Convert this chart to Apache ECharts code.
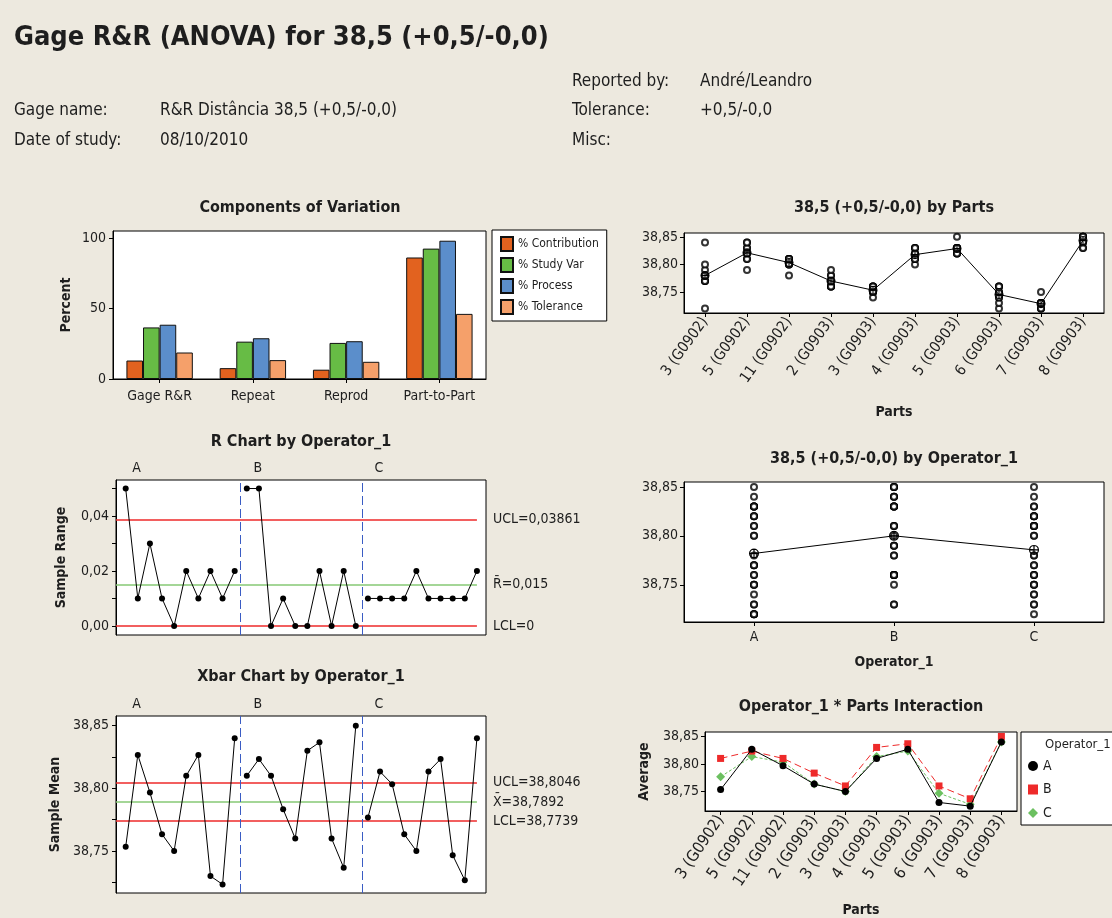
<!DOCTYPE html>
<html><head><meta charset="utf-8">
<script src="https://cdn.jsdelivr.net/npm/echarts@6/dist/echarts.min.js"></script>
<style>html,body{margin:0;padding:0;background:#EDE9DF}#c{width:1112px;height:918px}</style>
</head><body><div id="c"></div>
<script>
// ---------------- data ----------------
const compCategories = ['Gage R&R', 'Repeat', 'Reprod', 'Part-to-Part'];
const pctContribution = [13.1, 7.7, 6.6, 86.2];
const pctStudyVar = [36.6, 26.5, 25.6, 92.5];
const pctProcess = [38.5, 28.9, 26.8, 98.1];
const pctTolerance = [18.8, 13.4, 12.2, 46.2];

const parts = ['3 (G0902)', '5 (G0902)', '11 (G0902)', '2 (G0903)', '3 (G0903)', '4 (G0903)', '5 (G0903)', '6 (G0903)', '7 (G0903)', '8 (G0903)'];
const operators = ['A', 'B', 'C'];
// measurements [part][trial] for each operator
const measA = [[38.72,38.77,38.77],[38.82,38.83,38.83],[38.78,38.80,38.81],[38.76,38.76,38.77],[38.75,38.75,38.75],[38.80,38.81,38.82],[38.82,38.83,38.83],[38.72,38.73,38.74],[38.72,38.72,38.73],[38.83,38.84,38.85]];
const measB = [[38.79,38.80,38.84],[38.79,38.84,38.84],[38.81,38.81,38.81],[38.78,38.78,38.79],[38.76,38.76,38.76],[38.83,38.83,38.83],[38.83,38.83,38.85],[38.76,38.76,38.76],[38.73,38.73,38.75],[38.85,38.85,38.85]];
const measC = [[38.77,38.78,38.78],[38.81,38.81,38.82],[38.80,38.80,38.81],[38.76,38.76,38.77],[38.74,38.75,38.76],[38.81,38.81,38.82],[38.82,38.82,38.83],[38.74,38.75,38.75],[38.72,38.73,38.73],[38.83,38.84,38.85]];

const rUCL = 0.03861, rBar = 0.015, rLCL = 0;
const xUCL = 38.8046, xBarBar = 38.7892, xLCL = 38.7739;

const rTickValues = [0, 0.01, 0.02, 0.03, 0.04, 0.05];
const rLabelValues = [0, 0.02, 0.04];
const xTickValues = [38.725, 38.75, 38.775, 38.80, 38.825, 38.85];
const mmLabelValues = [38.75, 38.80, 38.85];

// ---------------- derived statistics ----------------
const allMeas = [measA, measB, measC];
const mean = a => a.reduce((s, v) => s + v, 0) / a.length;
const rangeOf = a => Math.round((Math.max(...a) - Math.min(...a)) * 1000) / 1000;
const nParts = parts.length;
const rSeries = [], xSeries = [];
allMeas.forEach((m, k) => {
  rSeries.push(m.map((t, p) => [k * nParts + p + 1, rangeOf(t)]));
  xSeries.push(m.map((t, p) => [k * nParts + p + 1, mean(t)]));
});
const nSub = operators.length * nParts;
const partObs = [], operObs = [];
allMeas.forEach((m, k) => m.forEach((t, p) => t.forEach(v => { partObs.push([p, v]); operObs.push([k, v]); })));
const partMeans = parts.map((_, p) => mean(allMeas.flatMap(m => m[p])));
const operMeans = allMeas.map(m => mean(m.flat()));
const interMeans = allMeas.map(m => m.map(t => mean(t)));

// ---------------- styling ----------------
const FONT = '"DejaVu Sans Condensed","Liberation Sans Narrow","DejaVu Sans",sans-serif';
const TXT = '#1e1e1e';
const fmt = (v, d) => v.toFixed(d).replace('.', ',');
const ORANGE = '#E2621F', GREEN = '#67BC45', BLUE = '#5B8ECB', LORANGE = '#F5A06A';
const RED = '#EE2A2A', LGREEN = '#86C874', DBLUE = '#3A5CC4';
const circlePlus = 'path://M0,-10A10,10,0,1,1,0,10A10,10,0,1,1,0,-10Z M0,-7.6A7.6,7.6,0,1,0,0,7.6A7.6,7.6,0,1,0,0,-7.6Z M-1.2,-10L1.2,-10L1.2,10L-1.2,10Z M-10,-1.2L10,-1.2L10,1.2L-10,1.2Z';

const axLine = {show: true, lineStyle: {color: '#000', width: 1}};
const axTick = {show: true, length: 4, lineStyle: {color: '#000', width: 1}};
const axLabel = {color: TXT, fontSize: 14, fontFamily: FONT};
const yName = (gap) => ({nameLocation: 'middle', nameRotate: 90, nameGap: gap, nameTextStyle: {fontWeight: 'bold', fontSize: 14, color: TXT, fontFamily: FONT}});

const grids = [
  {left: 113, top: 231, width: 373, height: 148},
  {left: 116, top: 480, width: 370, height: 155},
  {left: 116, top: 716, width: 370, height: 177},
  {left: 684, top: 233, width: 420, height: 80},
  {left: 684, top: 482, width: 420, height: 140},
  {left: 705, top: 732, width: 312, height: 80}
].map(g => Object.assign(g, {show: true, backgroundColor: '#fff', borderColor: '#000', borderWidth: 1, containLabel: false}));

const subMin = 0.2, subMax = 30.75;
const opLabelX = operators.map((_, k) => k * nParts + 1.9);

function topOpAxis(gi) {
  return {gridIndex: gi, type: 'value', position: 'top', min: subMin, max: subMax,
    axisLine: {show: false}, axisTick: {show: false}, splitLine: {show: false},
    axisLabel: Object.assign({}, axLabel, {margin: 5, customValues: opLabelX,
      formatter: v => operators[opLabelX.findIndex(x => Math.abs(x - v) < 1e-6)] || ''})};
}
function hiddenSubAxis(gi) {
  return {gridIndex: gi, type: 'value', min: subMin, max: subMax, show: false, splitLine: {show: false}};
}

const xAxis = [
  {gridIndex: 0, type: 'category', data: compCategories, axisLine: axLine, axisTick: Object.assign({alignWithLabel: true}, axTick), axisLabel: Object.assign({}, axLabel, {margin: 10})},
  hiddenSubAxis(1), topOpAxis(1),
  hiddenSubAxis(2), topOpAxis(2),
  {gridIndex: 3, type: 'category', data: parts, axisLine: axLine, axisTick: Object.assign({alignWithLabel: true}, axTick),
    axisLabel: Object.assign({}, axLabel, {fontSize: 15, rotate: 54, interval: 0, margin: 6}),
    name: 'Parts', nameLocation: 'middle', nameGap: 92, nameTextStyle: {fontWeight: 'bold', fontSize: 14, color: TXT, fontFamily: FONT}},
  {gridIndex: 4, type: 'category', data: operators, axisLine: axLine, axisTick: Object.assign({alignWithLabel: true}, axTick),
    axisLabel: Object.assign({}, axLabel, {margin: 8}),
    name: 'Operator_1', nameLocation: 'middle', nameGap: 33, nameTextStyle: {fontWeight: 'bold', fontSize: 14, color: TXT, fontFamily: FONT}},
  {gridIndex: 5, type: 'category', data: parts, axisLine: axLine, axisTick: Object.assign({alignWithLabel: true}, axTick),
    axisLabel: Object.assign({}, axLabel, {fontSize: 16, rotate: 56, interval: 0, margin: 6}),
    name: 'Parts', nameLocation: 'middle', nameGap: 92, nameTextStyle: {fontWeight: 'bold', fontSize: 14, color: TXT, fontFamily: FONT}}
];

const yAxis = [
  Object.assign({gridIndex: 0, type: 'value', min: 0, max: 105, interval: 50, splitLine: {show: false}, axisLine: axLine, axisTick: axTick,
    axisLabel: Object.assign({}, axLabel, {margin: 7}), name: 'Percent'}, yName(40)),
  Object.assign({gridIndex: 1, type: 'value', min: -0.0033, max: 0.0531, splitLine: {show: false}, axisLine: axLine,
    axisTick: Object.assign({customValues: rTickValues}, axTick),
    axisLabel: Object.assign({}, axLabel, {margin: 7, customValues: rLabelValues, formatter: v => fmt(v, 2)}), name: 'Sample Range'}, yName(48)),
  Object.assign({gridIndex: 2, type: 'value', min: 38.7165, max: 38.8577, splitLine: {show: false}, axisLine: axLine,
    axisTick: Object.assign({customValues: xTickValues}, axTick),
    axisLabel: Object.assign({}, axLabel, {margin: 7, customValues: mmLabelValues, formatter: v => fmt(v, 2)}), name: 'Sample Mean'}, yName(54)),
  {gridIndex: 3, type: 'value', min: 38.712, max: 38.857, splitLine: {show: false}, axisLine: axLine,
    axisTick: Object.assign({customValues: mmLabelValues}, axTick),
    axisLabel: Object.assign({}, axLabel, {margin: 6, customValues: mmLabelValues, formatter: v => fmt(v, 2)})},
  {gridIndex: 4, type: 'value', min: 38.712, max: 38.855, splitLine: {show: false}, axisLine: axLine,
    axisTick: Object.assign({customValues: mmLabelValues}, axTick),
    axisLabel: Object.assign({}, axLabel, {margin: 6, customValues: mmLabelValues, formatter: v => fmt(v, 2)})},
  Object.assign({gridIndex: 5, type: 'value', min: 38.7145, max: 38.858, splitLine: {show: false}, axisLine: axLine,
    axisTick: Object.assign({customValues: mmLabelValues}, axTick),
    axisLabel: Object.assign({}, axLabel, {margin: 6, customValues: mmLabelValues, formatter: v => fmt(v, 2)}), name: 'Average'}, yName(54))
];

function ctrl(y, color, text) {
  return [
    {coord: [subMin, y], lineStyle: {color: color, width: 1.5, type: 'solid'},
     label: {show: true, position: 'end', formatter: text, distance: 16, fontSize: 14, color: TXT, fontFamily: FONT}},
    {coord: [nSub, y]}
  ];
}
const dividers = operators.slice(1).map((_, k) => ({xAxis: (k + 1) * nParts + 0.5,
  lineStyle: {color: DBLUE, type: [9, 4], width: 1}, label: {show: false}}));

const series = [];
// Components of variation
[['% Contribution', pctContribution, ORANGE], ['% Study Var', pctStudyVar, GREEN],
 ['% Process', pctProcess, BLUE], ['% Tolerance', pctTolerance, LORANGE]].forEach(([n, d, c]) => {
  series.push({name: n, type: 'bar', xAxisIndex: 0, yAxisIndex: 0, data: d, barWidth: 16.6, barGap: '0%',
    itemStyle: {color: c, borderColor: '#111', borderWidth: 1}});
});
// R chart
operators.forEach((op, k) => {
  const s = {name: 'R ' + op, type: 'line', xAxisIndex: 1, yAxisIndex: 1, data: rSeries[k], symbol: 'circle', symbolSize: 6,
    itemStyle: {color: '#000'}, lineStyle: {color: '#000', width: 1}, z: 5};
  if (k === 0) s.markLine = {silent: true, symbol: ['none', 'none'], animation: false, data: [
    ctrl(rUCL, RED, 'UCL=' + String(rUCL).replace('.', ',')),
    ctrl(rBar, LGREEN, 'R\u0304=' + String(rBar).replace('.', ',')),
    ctrl(rLCL, RED, 'LCL=' + String(rLCL).replace('.', ',')),
    ...dividers]};
  series.push(s);
});
// Xbar chart
operators.forEach((op, k) => {
  const s = {name: 'Xbar ' + op, type: 'line', xAxisIndex: 3, yAxisIndex: 2, data: xSeries[k], symbol: 'circle', symbolSize: 6,
    itemStyle: {color: '#000'}, lineStyle: {color: '#000', width: 1}, z: 5};
  if (k === 0) s.markLine = {silent: true, symbol: ['none', 'none'], animation: false, data: [
    ctrl(xUCL, RED, 'UCL=' + fmt(xUCL, 4)),
    ctrl(xBarBar, LGREEN, 'X\u0304=' + fmt(xBarBar, 4)),
    ctrl(xLCL, RED, 'LCL=' + fmt(xLCL, 4)),
    ...dividers]};
  series.push(s);
});
// By parts
series.push({name: 'parts obs', type: 'scatter', xAxisIndex: 5, yAxisIndex: 3, data: partObs, symbol: 'emptyCircle', symbolSize: 6,
  itemStyle: {color: '#000', borderWidth: 1}});
series.push({name: 'parts mean', type: 'line', xAxisIndex: 5, yAxisIndex: 3, data: partMeans, symbol: circlePlus, symbolSize: 9,
  itemStyle: {color: '#000'}, lineStyle: {color: '#000', width: 1}, z: 4});
// By operator
series.push({name: 'oper obs', type: 'scatter', xAxisIndex: 6, yAxisIndex: 4, data: operObs, symbol: 'emptyCircle', symbolSize: 6,
  itemStyle: {color: '#000', borderWidth: 1}});
series.push({name: 'oper mean', type: 'line', xAxisIndex: 6, yAxisIndex: 4, data: operMeans, symbol: circlePlus, symbolSize: 10,
  itemStyle: {color: '#000'}, lineStyle: {color: '#000', width: 1}, z: 4});
// Interaction
const interStyle = [
  {sym: 'circle', size: 7, color: '#000', type: 'solid'},
  {sym: 'rect', size: 7, color: RED, type: [7, 4]},
  {sym: 'diamond', size: 9, color: '#6CC060', type: [3, 2]}
];
operators.forEach((op, k) => {
  const st = interStyle[k];
  series.push({name: op, type: 'line', xAxisIndex: 7, yAxisIndex: 5, data: interMeans[k], symbol: st.sym, symbolSize: st.size,
    itemStyle: {color: st.color}, lineStyle: {color: st.color, width: 1, type: st.type}, z: 5 - k});
});

const legend = [
  {left: 492, top: 230, orient: 'vertical', backgroundColor: '#fff', borderColor: '#000', borderWidth: 1,
    padding: [6, 8, 6, 8], itemWidth: 12, itemHeight: 14, itemGap: 5, icon: 'rect', selectedMode: false,
    textStyle: {fontSize: 12, color: TXT, fontFamily: FONT},
    data: ['% Contribution', '% Study Var', '% Process', '% Tolerance']},
  {left: 1021, top: 732, orient: 'vertical', backgroundColor: '#fff', borderColor: '#000', borderWidth: 1,
    padding: [27, 70, 5, 7], itemWidth: 10, itemHeight: 10, itemGap: 9.5, selectedMode: false,
    textStyle: {fontSize: 14, color: TXT, fontFamily: FONT},
    data: [{name: 'A', icon: 'circle'}, {name: 'B', icon: 'rect'}, {name: 'C', icon: 'diamond'}]}
];

function txt(text, x, y, font, align) {
  return {type: 'text', x: x, y: y, z: 100, silent: true,
    style: {text: text, font: font, fill: TXT, textAlign: align || 'left', textVerticalAlign: 'middle'}};
}
const HF = '17px ' + FONT, TF = 'bold 16px ' + FONT;
const graphic = [
  txt('Gage R&R (ANOVA) for 38,5 (+0,5/-0,0)', 14, 38, 'bold 27px ' + FONT),
  txt('Reported by:', 572, 82, HF), txt('André/Leandro', 700, 82, HF),
  txt('Gage name:', 14, 111, HF), txt('R&R Distância 38,5 (+0,5/-0,0)', 160, 111, HF),
  txt('Tolerance:', 572, 111, HF), txt('+0,5/-0,0', 700, 111, HF),
  txt('Date of study:', 14, 141, HF), txt('08/10/2010', 160, 141, HF),
  txt('Misc:', 572, 141, HF),
  txt('Components of Variation', 300, 208, TF, 'center'),
  txt('38,5 (+0,5/-0,0) by Parts', 894, 208, TF, 'center'),
  txt('R Chart by Operator_1', 301, 442, TF, 'center'),
  txt('38,5 (+0,5/-0,0) by Operator_1', 894, 459, TF, 'center'),
  txt('Xbar Chart by Operator_1', 301, 677, TF, 'center'),
  txt('Operator_1 * Parts Interaction', 861, 707, TF, 'center'),
  txt('Operator_1', 1045, 745, '13px ' + FONT)
];

const chart = echarts.init(document.getElementById('c'), null, {renderer: 'canvas'});
chart.setOption({
  backgroundColor: '#EDE9DF', animation: false,
  textStyle: {fontFamily: FONT, color: TXT},
  grid: grids, xAxis: xAxis, yAxis: yAxis, series: series, legend: legend, graphic: graphic
});
</script></body></html>
